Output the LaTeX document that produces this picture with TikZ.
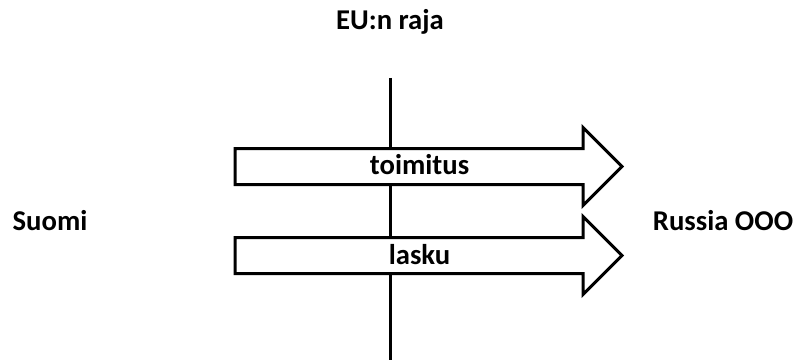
\documentclass[tikz,border=0pt]{standalone}
\usepackage{fontspec}
\setmainfont{Carlito}
\usetikzlibrary{shapes.arrows}
\tikzset{
  flow/.style={single arrow, draw, fill=white, line width=2.25pt,
    font=\fontsize{21.5}{26}\selectfont\bfseries,
    text height=12.75pt, text depth=0pt,
    inner xsep=0pt, inner ysep=6pt, single arrow head extend=15.75pt,
    minimum height=290.25pt},
  tag/.style={font=\fontsize{21.5}{26}\selectfont\bfseries, anchor=base, inner sep=0pt}
}
\begin{document}
\begin{tikzpicture}[x=0.75pt,y=-0.75pt]
\useasboundingbox (0,0) rectangle (800,360);
% Draw the border line
\coordinate (rajaTop) at (390,78);
\coordinate (rajaBottom) at (390,362);
\draw [line width=2.25pt] (rajaTop) -- (rajaBottom);
\node [tag] (raja) at (390,30) {EU:n raja};
% Draw the two flows across the border
\node [flow] (toimitus) at (419.5,166.5) {toimitus};
\node [flow] (lasku) at (419.5,255.5) {lasku};
% Draw the two sides
\node [tag] (suomi) at (50,230) {Suomi};
\node [tag] (russia) at (723,230) {Russia OOO};
\end{tikzpicture}
\end{document}
